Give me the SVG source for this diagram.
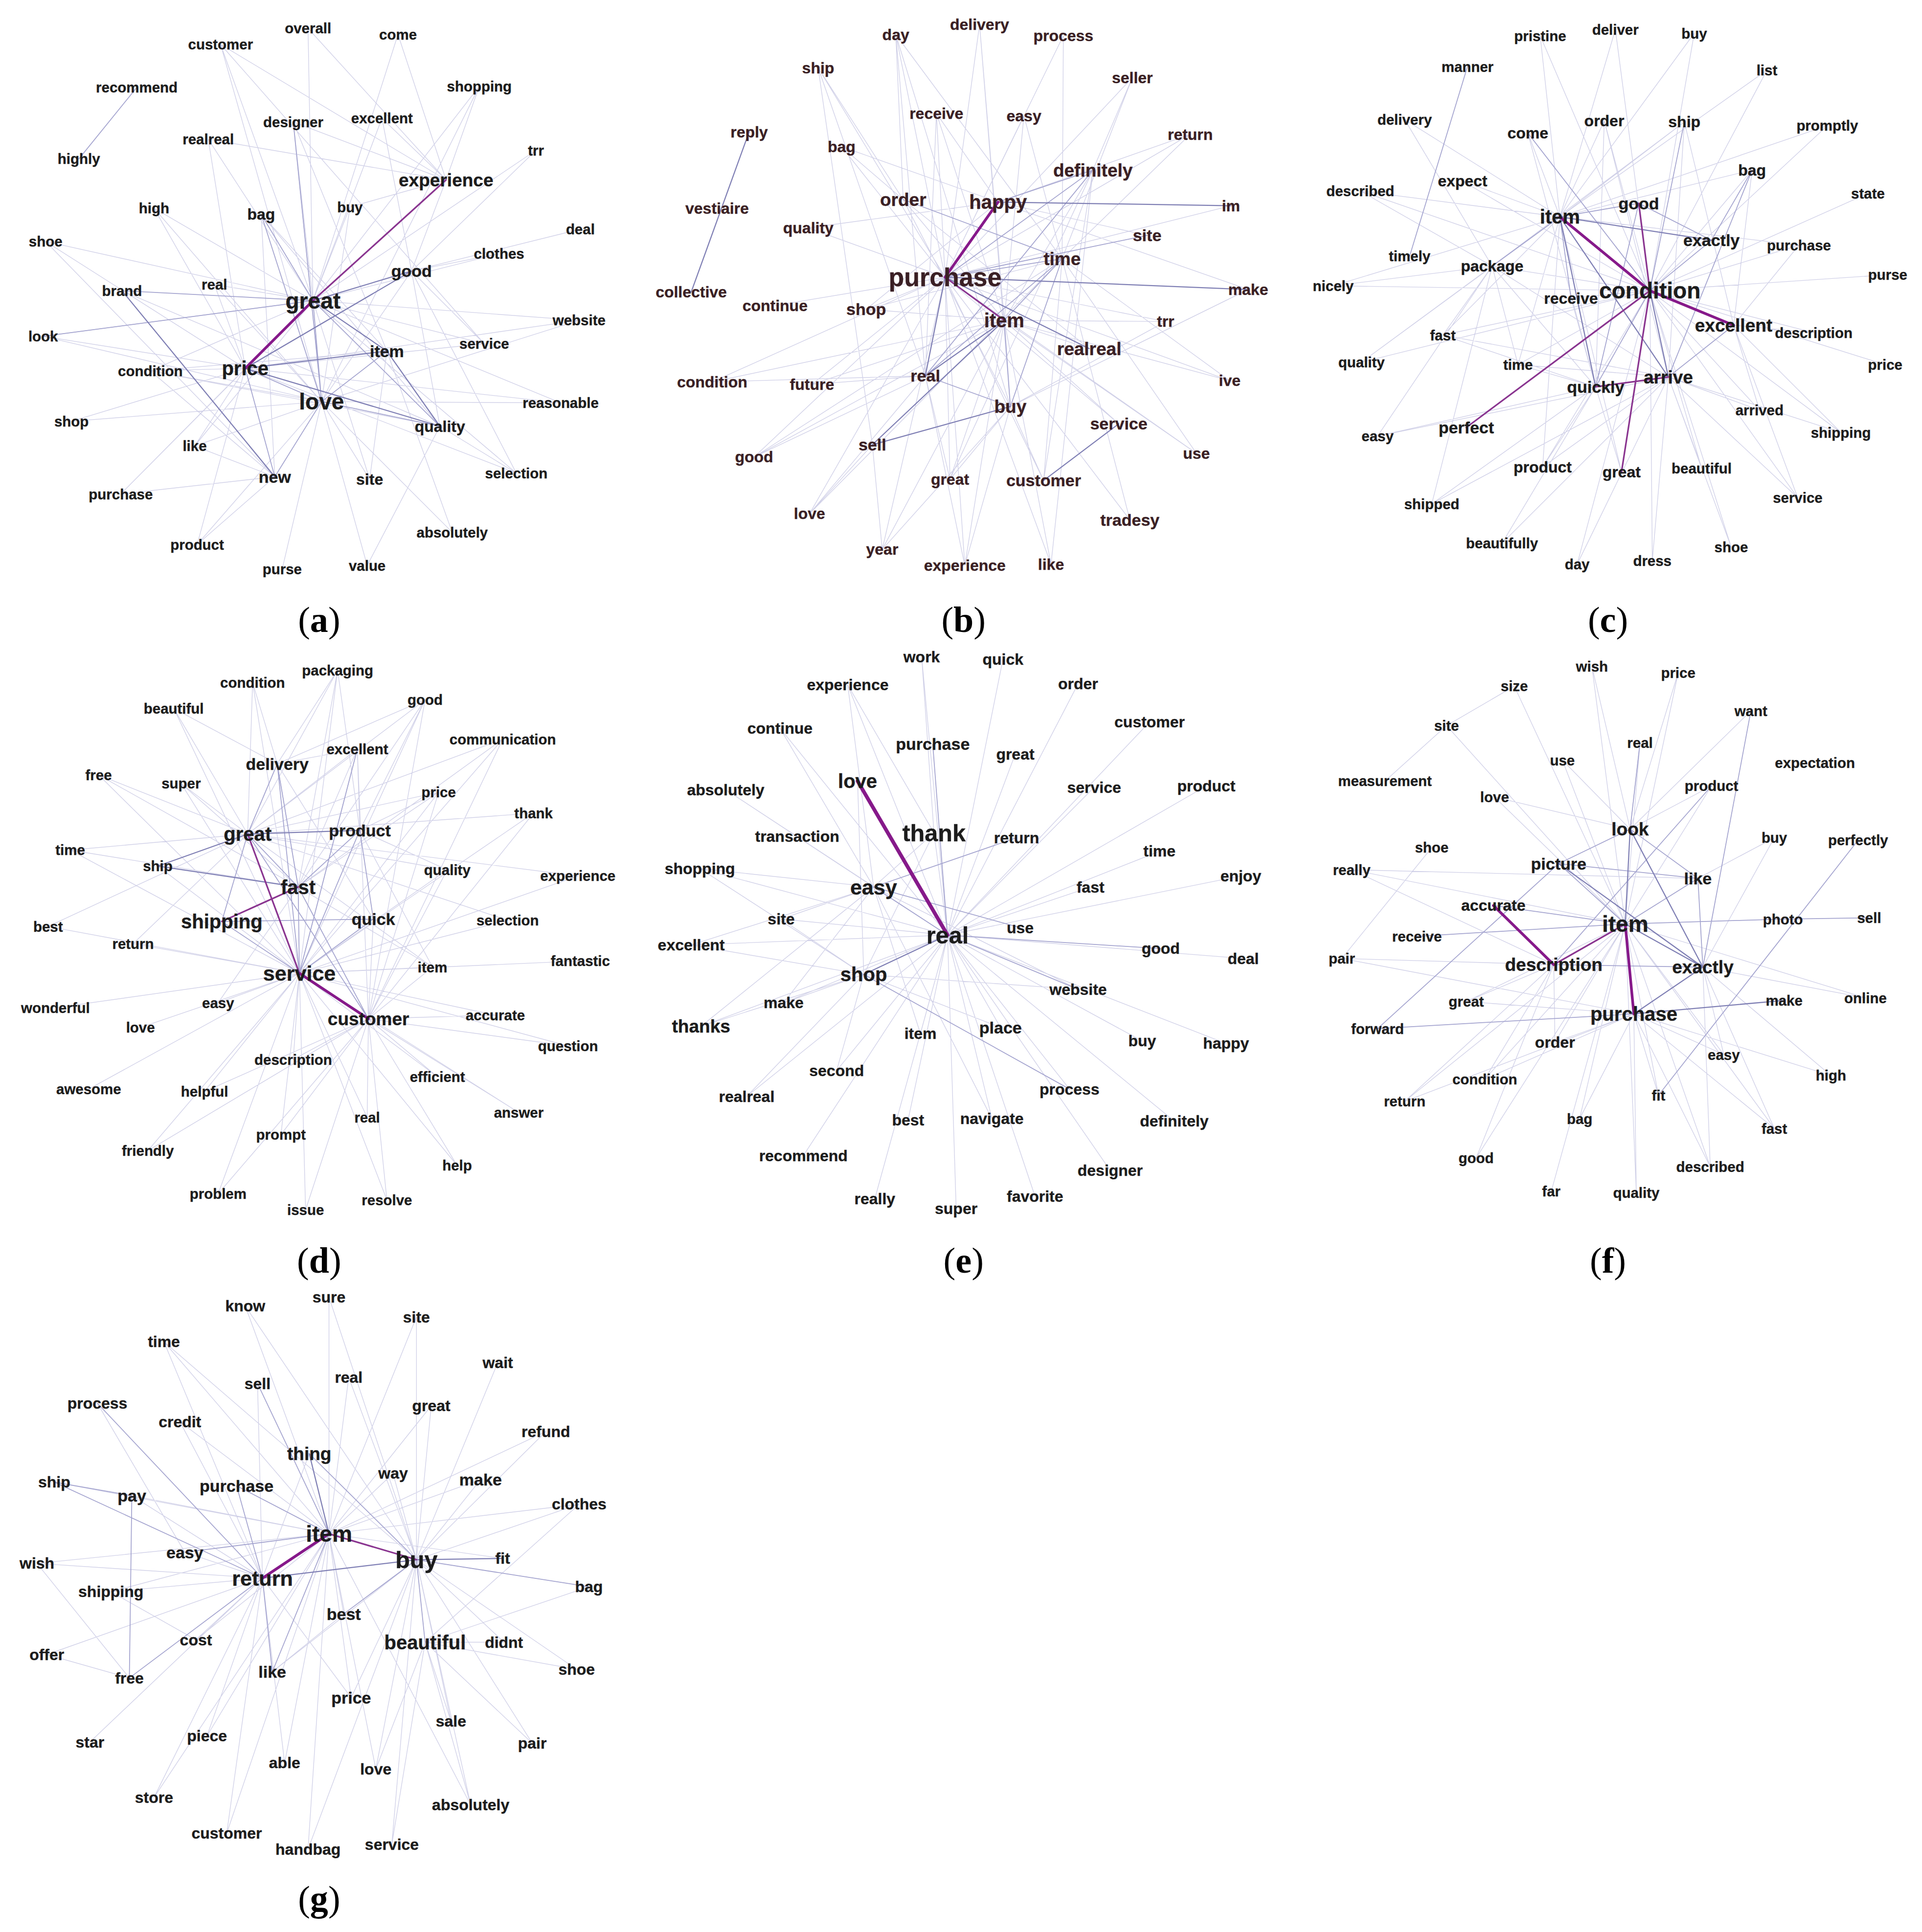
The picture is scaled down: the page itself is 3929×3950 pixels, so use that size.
<svg xmlns="http://www.w3.org/2000/svg" width="3929" height="3950" viewBox="0 0 3929 3950">
<style>
.w text{font-family:"Liberation Sans",Arial,sans-serif;font-weight:bold;text-anchor:middle;dominant-baseline:central;fill:#1c1c1c;stroke:#1c1c1c;stroke-width:0.16px;stroke-linejoin:round;font-size:11.7px}
#panel-b text{fill:#3a1f24;stroke:#3a1f24}
.d1 text{font-size:12.7px}
.w .t0{font-size:11.7px}.w .t1{font-size:12.7px}.w .t2{font-size:13.5px}.w .t3{font-size:14.7px}.w .t4{font-size:15.9px}.w .t5{font-size:17.1px}.w .t6{font-size:18.3px}.w .t7{font-size:19.3px}.w .t8{font-size:20.6px}
.lab{font-family:"Liberation Serif","Times New Roman",serif;font-size:29.4px;text-anchor:middle;fill:#000}
.lab .b{font-weight:bold}
.e1{stroke:#c6c6e2;stroke-width:0.55;stroke-opacity:0.8}
.e2{stroke:#a4a4cf;stroke-width:0.7}
.e3{stroke:#7f7fb4;stroke-width:0.9}
.ep{stroke:#8a3590;stroke-width:1.3}
.ep2{stroke:#86198a;stroke-width:2.2}
</style>
<rect width="3929" height="3950" fill="#fff"/>
<g transform="scale(2.5188)">
<g id="connectors" fill="none" stroke-linecap="round">
<path class="e1" d="M254 244L179 36M254 244L250 23M254 244L323 28M254 244L389 70M254 244L238 99M254 244L310 96M254 244L169 113M254 244L174 231M254 244L125 169M254 244L284 168M254 244L37 196M254 244L405 206M254 244L35 273M254 244L122 301M254 244L393 279M254 244L470 260M254 244L300 389M254 244L419 384M254 244L158 362M254 244L98 401M254 244L455 327M254 244L435 122M261 326L238 99M261 326L174 231M261 326L125 169M261 326L284 168M261 326L58 342M261 326L158 362M261 326L122 301M261 326L300 389M261 326L367 432M261 326L160 442M261 326L229 462M261 326L298 459M261 326L455 327M261 326L470 260M261 326L334 220M261 326L35 273M261 326L179 36M199 299L125 169M199 299L174 231M199 299L169 113M199 299L37 196M199 299L35 273M199 299L122 301M199 299L58 342M199 299L158 362M199 299L98 401M199 299L160 442M199 299L455 327M199 299L419 384M199 299L470 260M199 299L393 279M362 146L389 70M362 146L323 28M362 146L250 23M362 146L310 96M362 146L179 36M362 146L284 168M362 146L169 113M362 146L334 220M362 146L238 99M334 220L405 206M334 220L393 279M334 220L471 186M334 220L419 384M334 220L357 346M334 220L435 122M334 220L310 96M314 285L212 174M314 285L300 389M314 285L367 432M314 285L122 301M314 285L238 99M357 346L419 384M357 346L212 174M357 346L122 301M357 346L99 236M357 346L298 459M223 387L158 362M223 387L98 401M223 387L122 301M223 387L160 442M223 387L37 196M223 387L212 174M179 36L393 279M389 70L261 326"/>
<path class="e2" d="M254 244L212 174M254 244L261 326M212 174L261 326M261 326L223 387M199 299L223 387M254 244L357 346M261 326L314 285M199 299L261 326M111 71L64 129M238 99L261 326M99 236L254 244M35 273L254 244M357 346L261 326"/>
<path class="e3" d="M254 244L334 220M254 244L314 285M199 299L314 285M199 299L357 346M314 285L357 346M99 236L223 387M199 299L334 220"/>
<path class="ep" d="M254 244L362 146"/>
<path class="ep2" d="M254 244L199 299"/>
<path class="e1" d="M767 225L727 28M767 225L795 20M767 225L863 29M767 225L664 55M767 225L919 63M767 225L683 119M767 225L760 92M767 225L831 94M767 225L966 109M767 225L656 185M767 225L999 167M767 225L629 248M767 225L703 251M767 225L946 261M767 225L578 310M767 225L659 312M767 225L998 309M767 225L908 344M767 225L612 371M767 225L971 368M767 225L771 389M767 225L847 390M767 225L917 422M767 225L657 417M767 225L716 446M767 225L783 459M767 225L853 458M815 260L760 92M815 260L831 94M815 260L887 138M815 260L884 283M815 260L946 261M815 260L998 309M815 260L771 389M815 260L716 446M815 260L783 459M815 260L853 458M815 260L971 368M815 260L908 344M815 260L612 371M815 260L659 312M815 260L703 251M815 260L795 20M815 260L733 162M815 260L578 310M862 210L919 63M862 210L966 109M862 210L863 29M862 210L831 94M862 210L847 390M862 210L917 422M862 210L657 417M862 210L998 309M862 210L727 28M862 210L612 371M862 210L703 251M862 210L971 368M820 330L727 28M820 330L795 20M820 330L847 390M820 330L783 459M820 330L716 446M820 330L771 389M820 330L1013 235M820 330L946 261M751 305L727 28M751 305L771 389M751 305L657 417M751 305L659 312M751 305L783 459M751 305L612 371M751 305L578 310M751 305L664 55M751 305L760 92M810 164L931 191M810 164L966 109M810 164L1013 235M810 164L760 92M810 164L683 119M810 164L703 251M810 164L656 185M733 162L664 55M733 162L683 119M733 162L727 28M733 162L884 283M733 162L820 330M887 138L771 389M887 138L853 458M887 138L847 390M887 138L919 63M708 361L664 55M708 361L716 446M708 361L657 417"/>
<path class="e2" d="M767 225L887 138M810 164L887 138M767 225L862 210M862 210L815 260M767 225L931 191M815 260L820 330M733 162L862 210M751 305L820 330M862 210L751 305M887 138L751 305M862 210L820 330"/>
<path class="e3" d="M767 225L1013 235M810 164L999 167M767 225L751 305M815 260L708 361M708 361L820 330M847 390L908 344M608 107L561 237M815 260L751 305M767 225L884 283"/>
<path class="ep" d="M767 225L815 260"/>
<path class="ep2" d="M767 225L810 164"/>
<path class="e1" d="M1339 236L1250 29M1339 236L1311 24M1339 236L1375 27M1339 236L1240 108M1339 236L1302 98M1339 236L1422 138M1339 236L1187 147M1339 236L1211 216M1339 236L1275 242M1339 236L1171 272M1339 236L1232 296M1339 236L1460 199M1339 236L1516 157M1339 236L1472 270M1339 236L1428 333M1339 236L1494 351M1339 236L1459 404M1339 236L1381 380M1339 236L1252 379M1339 236L1280 458M1339 236L1341 455M1339 236L1405 444M1339 236L1082 232M1339 236L1105 294M1339 236L1104 155M1339 236L1434 57M1339 236L1483 102M1339 236L1532 223M1339 236L1530 296M1266 176L1250 29M1266 176L1240 108M1266 176L1302 98M1266 176L1367 99M1266 176L1311 24M1266 176L1140 97M1266 176L1104 155M1266 176L1187 147M1266 176L1232 296M1266 176L1171 272M1266 176L1105 294M1266 176L1252 379M1266 176L1316 383M1266 176L1434 57M1266 176L1460 199M1266 176L1483 102M1266 176L1422 138M1266 176L1082 232M1266 176L1375 27M1354 306L1211 216M1354 306L1171 272M1354 306L1232 296M1354 306L1252 379M1354 306L1162 409M1354 306L1381 380M1354 306L1118 354M1354 306L1219 441M1354 306L1428 333M1354 306L1494 351M1354 306L1280 458M1354 306L1341 455M1354 306L1459 404M1354 306L1405 444M1354 306L1367 99M1354 306L1302 98M1295 314L1211 216M1295 314L1252 379M1295 314L1316 383M1295 314L1162 409M1295 314L1118 354M1295 314L1171 272M1295 314L1232 296M1295 314L1275 242M1295 314L1302 98M1295 314L1240 108M1295 314L1219 441M1211 216L1171 272M1211 216L1105 294M1211 216L1118 354M1211 216L1232 296M1211 216L1162 409M1211 216L1082 232M1211 216L1140 97M1211 216L1104 155M1211 216L1367 99M1407 264L1459 404M1407 264L1494 351M1407 264L1472 270M1407 264L1428 333M1407 264L1422 138M1407 264L1367 99M1407 264L1460 199"/>
<path class="e2" d="M1266 176L1330 165M1266 176L1211 216M1266 176L1275 242M1339 236L1295 314M1330 165L1295 314M1407 264L1354 306M1422 138L1354 306M1339 236L1389 195M1389 195L1422 138M1191 54L1144 208M1330 165L1389 195M1367 99L1339 236M1240 108L1339 236"/>
<path class="e3" d="M1266 176L1389 195M1266 176L1295 314M1266 176L1354 306M1339 236L1354 306"/>
<path class="ep" d="M1330 165L1339 236M1339 236L1190 347M1339 236L1316 383M1295 314L1354 306"/>
<path class="ep2" d="M1266 176L1339 236M1339 236L1407 264"/>
<path class="e1" d="M243 790L274 544M243 790L205 554M243 790L345 568M243 790L141 575M243 790L408 600M243 790L290 608M243 790L80 629M243 790L147 636M243 790L356 643M243 790L433 660M243 790L57 690M243 790L128 703M243 790L363 706M243 790L469 711M243 790L412 747M243 790L39 752M243 790L108 766M243 790L471 780M243 790L351 785M243 790L45 818M243 790L177 814M243 790L402 824M243 790L114 834M243 790L461 849M243 790L238 860M243 790L355 874M243 790L72 884M243 790L166 886M243 790L421 903M243 790L298 907M243 790L228 921M243 790L120 934M243 790L371 946M243 790L177 969M243 790L314 974M243 790L248 982M299 827L408 600M299 827L290 608M299 827L345 568M299 827L356 643M299 827L363 706M299 827L303 746M299 827L351 785M299 827L355 874M299 827L421 903M299 827L461 849M299 827L371 946M299 827L314 974M299 827L248 982M299 827L298 907M299 827L120 934M299 827L166 886M299 827L177 969M299 827L228 921M299 827L238 860M299 827L402 824M299 827L433 660M201 677L274 544M201 677L205 554M201 677L141 575M201 677L80 629M201 677L147 636M201 677L57 690M201 677L363 706M201 677L356 643M201 677L433 660M201 677L469 711M201 677L412 747M201 677L351 785M201 677L108 766M201 677L39 752M201 677L345 568M201 677L408 600M201 677L290 608M242 720L225 620M242 720L290 608M242 720L147 636M242 720L57 690M242 720L345 568M242 720L356 643M242 720L351 785M242 720L177 814M242 720L274 544M242 720L408 600M242 720L80 629M225 620L205 554M225 620L274 544M225 620L141 575M225 620L345 568M225 620L303 746M225 620L290 608M292 674L345 568M292 674L356 643M292 674L363 706M292 674L290 608M292 674L351 785M292 674L274 544"/>
<path class="e2" d="M201 677L242 720M201 677L225 620M225 620L242 720M225 620L243 790M292 674L243 790M242 720L243 790M303 746L243 790M180 748L303 746M201 677L180 748M201 677L299 827M242 720L299 827M292 674L242 720M290 608L243 790M292 674L303 746M180 748L243 790"/>
<path class="e3" d="M201 677L292 674M128 703L201 677M128 703L242 720"/>
<path class="ep" d="M201 677L243 790M180 748L242 720"/>
<path class="ep2" d="M243 790L299 827"/>
<path class="e1" d="M769 759L748 533M769 759L814 535M769 759L688 556M769 759L875 555M769 759L933 586M769 759L633 591M769 759L824 612M769 759L589 641M769 759L888 639M769 759L979 638M769 759L647 679M769 759L941 691M769 759L568 705M769 759L885 720M769 759L1007 711M769 759L634 746M769 759L561 767M769 759L1009 778M769 759L636 814M769 759L569 833M769 759L747 839M769 759L812 834M769 759L927 845M769 759L995 847M769 759L679 869M769 759L868 884M769 759L606 890M769 759L737 909M769 759L805 908M769 759L953 910M769 759L652 938M769 759L901 950M769 759L710 973M769 759L840 971M769 759L776 981M769 759L758 676M709 720L633 591M709 720L589 641M709 720L647 679M709 720L568 705M709 720L634 746M709 720L561 767M709 720L636 814M709 720L569 833M709 720L805 908M709 720L747 839M709 720L688 556M709 720L875 803M701 791L568 705M701 791L561 767M701 791L634 746M701 791L606 890M701 791L636 814M701 791L679 869M701 791L812 834M701 791L875 803M701 791L569 833M758 676L688 556M758 676L748 533M758 676L709 720M758 676L701 791M696 634L701 791"/>
<path class="e2" d="M709 720L825 680M757 604L769 759M709 720L769 759M709 720L828 753M701 791L868 884M769 759L875 803M769 759L942 770"/>
<path class="e3" d="M701 791L769 759"/>
<path class="ep2" d="M696 634L769 759" style="stroke-width:3"/>
<path class="e1" d="M1319 750L1292 541M1319 750L1362 546M1319 750L1331 603M1319 750L1268 617M1319 750L1213 647M1319 750L1389 638M1319 750L1097 706M1319 750L1190 813M1319 750L1262 846M1319 750L1399 856M1319 750L1205 876M1319 750L1140 894M1319 750L1346 889M1319 750L1282 908M1319 750L1440 916M1319 750L1198 940M1319 750L1388 947M1319 750L1259 967M1319 750L1328 968M1319 750L1514 810M1319 750L1174 589M1323 673L1331 603M1323 673L1421 577M1323 673L1389 638M1323 673L1268 617M1323 673L1213 647M1323 673L1362 546M1323 673L1292 541M1326 823L1190 813M1326 823L1262 846M1326 823L1399 856M1326 823L1346 889M1326 823L1282 908M1326 823L1440 916M1326 823L1388 947M1326 823L1328 968M1326 823L1089 778M1326 823L1486 873M1326 823L1205 876M1326 823L1140 894M1261 783L1190 813M1261 783L1262 846M1261 783L1205 876M1261 783L1198 940M1261 783L1089 778M1261 783L1140 894M1261 783L1097 706M1382 785L1486 873M1382 785L1399 856M1382 785L1388 947M1382 785L1440 680M1382 785L1440 916M1382 785L1514 810M1174 589L1229 557M1174 589L1124 634M1162 688L1089 778M1097 706L1378 713M1440 680L1378 713M1229 557L1319 750"/>
<path class="e2" d="M1265 701L1319 750M1265 701L1378 713M1323 673L1378 713M1378 713L1382 785M1319 750L1378 713M1323 673L1265 701M1319 750L1447 746M1447 746L1517 745M1212 735L1319 750M1118 835L1265 701M1118 835L1326 823M1150 760L1319 750M1508 682L1346 889M1421 577L1382 785M1389 638L1261 783M1331 603L1323 673M1261 783L1382 785"/>
<path class="e3" d="M1323 673L1319 750M1323 673L1382 785M1265 701L1382 785M1319 750L1382 785M1326 823L1448 812M1326 823L1382 785"/>
<path class="ep" d="M1261 783L1319 750"/>
<path class="ep2" d="M1212 735L1261 783M1319 750L1326 823"/>
<path class="e1" d="M267 1245L199 1060M267 1245L267 1053M267 1245L338 1069M267 1245L133 1089M267 1245L283 1118M267 1245L146 1154M267 1245L350 1141M267 1245L443 1162M267 1245L319 1196M267 1245L390 1201M267 1245L44 1203M267 1245L107 1214M267 1245L470 1221M267 1245L408 1265M267 1245L30 1269M267 1245L90 1292M267 1245L279 1310M267 1245L159 1331M267 1245L285 1378M267 1245L168 1409M267 1245L231 1431M267 1245L305 1436M267 1245L184 1488M267 1245L250 1501M267 1245L125 1459M267 1245L382 1465M338 1266L267 1053M338 1266L338 1069M338 1266L199 1060M338 1266L404 1106M338 1266L283 1118M338 1266L350 1141M338 1266L443 1162M338 1266L319 1196M338 1266L390 1201M338 1266L470 1221M338 1266L409 1333M338 1266L468 1355M338 1266L366 1397M338 1266L432 1415M338 1266L285 1378M338 1266L305 1436M338 1266L382 1465M338 1266L318 1497M338 1266L250 1501M338 1266L221 1357M338 1266L133 1089M213 1281L133 1089M213 1281L146 1154M213 1281L209 1123M213 1281L107 1214M213 1281L30 1269M213 1281L90 1292M213 1281L150 1260M213 1281L159 1331M213 1281L38 1343M213 1281L73 1414M213 1281L168 1409M213 1281L125 1459M213 1281L184 1488M213 1281L231 1431M213 1281L285 1378M213 1281L251 1180M345 1333L478 1288M345 1333L468 1355M345 1333L432 1415M345 1333L366 1397M345 1333L305 1436M345 1333L409 1333M345 1333L318 1497M345 1333L382 1465M345 1333L470 1221M30 1269L105 1362M38 1343L105 1362M90 1292L159 1331M79 1139L150 1260M221 1357L279 1310"/>
<path class="e2" d="M251 1180L338 1266M192 1206L267 1245M44 1203L213 1281M44 1203L107 1214M79 1139L213 1281M107 1214L105 1362M267 1245L221 1357M213 1281L221 1357M338 1266L345 1333M338 1266L478 1288M150 1260L267 1245M213 1281L192 1206M279 1310L338 1266M105 1362L213 1281M209 1123L267 1245"/>
<path class="e3" d="M213 1281L338 1266M338 1266L408 1265M267 1245L251 1180"/>
<path class="ep" d="M267 1245L338 1266"/>
<path class="ep2" d="M213 1281L267 1245"/>
</g>
<g id="panel-a" class="w">
<g id="a-customer"><text x="179" y="36">customer</text></g>
<g id="a-overall"><text x="250" y="23">overall</text></g>
<g id="a-come"><text x="323" y="28">come</text></g>
<g id="a-recommend"><text x="111" y="71">recommend</text></g>
<g id="a-shopping"><text x="389" y="70">shopping</text></g>
<g id="a-highly"><text x="64" y="129">highly</text></g>
<g id="a-designer"><text x="238" y="99">designer</text></g>
<g id="a-excellent"><text x="310" y="96">excellent</text></g>
<g id="a-realreal"><text x="169" y="113">realreal</text></g>
<g id="a-trr"><text x="435" y="122">trr</text></g>
<g id="a-experience"><text class="t3" x="362" y="146">experience</text></g>
<g id="a-high"><text x="125" y="169">high</text></g>
<g id="a-bag"><text class="t1" x="212" y="174">bag</text></g>
<g id="a-buy"><text x="284" y="168">buy</text></g>
<g id="a-shoe"><text x="37" y="196">shoe</text></g>
<g id="a-deal"><text x="471" y="186">deal</text></g>
<g id="a-clothes"><text x="405" y="206">clothes</text></g>
<g id="a-good"><text class="t2" x="334" y="220">good</text></g>
<g id="a-brand"><text x="99" y="236">brand</text></g>
<g id="a-real"><text x="174" y="231">real</text></g>
<g id="a-great"><text class="t6" x="254" y="244">great</text></g>
<g id="a-look"><text x="35" y="273">look</text></g>
<g id="a-website"><text x="470" y="260">website</text></g>
<g id="a-service"><text x="393" y="279">service</text></g>
<g id="a-item"><text class="t2" x="314" y="285">item</text></g>
<g id="a-condition"><text x="122" y="301">condition</text></g>
<g id="a-price"><text class="t4" x="199" y="299">price</text></g>
<g id="a-love"><text class="t6" x="261" y="326">love</text></g>
<g id="a-reasonable"><text x="455" y="327">reasonable</text></g>
<g id="a-shop"><text x="58" y="342">shop</text></g>
<g id="a-quality"><text class="t1" x="357" y="346">quality</text></g>
<g id="a-like"><text x="158" y="362">like</text></g>
<g id="a-new"><text class="t2" x="223" y="387">new</text></g>
<g id="a-site"><text class="t1" x="300" y="389">site</text></g>
<g id="a-selection"><text x="419" y="384">selection</text></g>
<g id="a-purchase"><text x="98" y="401">purchase</text></g>
<g id="a-absolutely"><text x="367" y="432">absolutely</text></g>
<g id="a-product"><text x="160" y="442">product</text></g>
<g id="a-purse"><text x="229" y="462">purse</text></g>
<g id="a-value"><text x="298" y="459">value</text></g>
</g>
<g id="panel-b" class="w d1">
<g id="b-day"><text x="727" y="28">day</text></g>
<g id="b-delivery"><text x="795" y="20">delivery</text></g>
<g id="b-process"><text x="863" y="29">process</text></g>
<g id="b-ship"><text x="664" y="55">ship</text></g>
<g id="b-seller"><text x="919" y="63">seller</text></g>
<g id="b-reply"><text x="608" y="107">reply</text></g>
<g id="b-bag"><text x="683" y="119">bag</text></g>
<g id="b-receive"><text x="760" y="92">receive</text></g>
<g id="b-easy"><text x="831" y="94">easy</text></g>
<g id="b-return"><text x="966" y="109">return</text></g>
<g id="b-definitely"><text class="t3" x="887" y="138">definitely</text></g>
<g id="b-vestiaire"><text x="582" y="169">vestiaire</text></g>
<g id="b-order"><text class="t3" x="733" y="162">order</text></g>
<g id="b-happy"><text class="t4" x="810" y="164">happy</text></g>
<g id="b-quality"><text x="656" y="185">quality</text></g>
<g id="b-im"><text x="999" y="167">im</text></g>
<g id="b-site"><text class="t2" x="931" y="191">site</text></g>
<g id="b-time"><text class="t3" x="862" y="210">time</text></g>
<g id="b-collective"><text x="561" y="237">collective</text></g>
<g id="b-purchase"><text class="t8" x="767" y="225">purchase</text></g>
<g id="b-make"><text x="1013" y="235">make</text></g>
<g id="b-continue"><text x="629" y="248">continue</text></g>
<g id="b-shop"><text class="t2" x="703" y="251">shop</text></g>
<g id="b-item"><text class="t4" x="815" y="260">item</text></g>
<g id="b-trr"><text x="946" y="261">trr</text></g>
<g id="b-realreal"><text class="t3" x="884" y="283">realreal</text></g>
<g id="b-condition"><text x="578" y="310">condition</text></g>
<g id="b-future"><text x="659" y="312">future</text></g>
<g id="b-real"><text class="t2" x="751" y="305">real</text></g>
<g id="b-ive"><text x="998" y="309">ive</text></g>
<g id="b-buy"><text class="t3" x="820" y="330">buy</text></g>
<g id="b-service"><text class="t2" x="908" y="344">service</text></g>
<g id="b-good"><text x="612" y="371">good</text></g>
<g id="b-sell"><text class="t2" x="708" y="361">sell</text></g>
<g id="b-use"><text x="971" y="368">use</text></g>
<g id="b-great"><text x="771" y="389">great</text></g>
<g id="b-customer"><text class="t2" x="847" y="390">customer</text></g>
<g id="b-tradesy"><text class="t2" x="917" y="422">tradesy</text></g>
<g id="b-love"><text x="657" y="417">love</text></g>
<g id="b-year"><text x="716" y="446">year</text></g>
<g id="b-experience"><text x="783" y="459">experience</text></g>
<g id="b-like"><text x="853" y="458">like</text></g>
</g>
<g id="panel-c" class="w">
<g id="c-pristine"><text x="1250" y="29">pristine</text></g>
<g id="c-deliver"><text x="1311" y="24">deliver</text></g>
<g id="c-buy"><text x="1375" y="27">buy</text></g>
<g id="c-manner"><text x="1191" y="54">manner</text></g>
<g id="c-list"><text x="1434" y="57">list</text></g>
<g id="c-delivery"><text x="1140" y="97">delivery</text></g>
<g id="c-come"><text class="t1" x="1240" y="108">come</text></g>
<g id="c-order"><text class="t1" x="1302" y="98">order</text></g>
<g id="c-ship"><text class="t1" x="1367" y="99">ship</text></g>
<g id="c-promptly"><text x="1483" y="102">promptly</text></g>
<g id="c-bag"><text class="t1" x="1422" y="138">bag</text></g>
<g id="c-described"><text x="1104" y="155">described</text></g>
<g id="c-expect"><text class="t1" x="1187" y="147">expect</text></g>
<g id="c-state"><text x="1516" y="157">state</text></g>
<g id="c-item"><text class="t4" x="1266" y="176">item</text></g>
<g id="c-good"><text class="t2" x="1330" y="165">good</text></g>
<g id="c-timely"><text x="1144" y="208">timely</text></g>
<g id="c-exactly"><text class="t2" x="1389" y="195">exactly</text></g>
<g id="c-purchase"><text x="1460" y="199">purchase</text></g>
<g id="c-purse"><text x="1532" y="223">purse</text></g>
<g id="c-package"><text class="t1" x="1211" y="216">package</text></g>
<g id="c-nicely"><text x="1082" y="232">nicely</text></g>
<g id="c-receive"><text class="t1" x="1275" y="242">receive</text></g>
<g id="c-condition"><text class="t6" x="1339" y="236">condition</text></g>
<g id="c-fast"><text x="1171" y="272">fast</text></g>
<g id="c-excellent"><text class="t3" x="1407" y="264">excellent</text></g>
<g id="c-description"><text x="1472" y="270">description</text></g>
<g id="c-quality"><text x="1105" y="294">quality</text></g>
<g id="c-time"><text x="1232" y="296">time</text></g>
<g id="c-price"><text x="1530" y="296">price</text></g>
<g id="c-quickly"><text class="t2" x="1295" y="314">quickly</text></g>
<g id="c-arrive"><text class="t3" x="1354" y="306">arrive</text></g>
<g id="c-arrived"><text x="1428" y="333">arrived</text></g>
<g id="c-perfect"><text class="t2" x="1190" y="347">perfect</text></g>
<g id="c-easy"><text x="1118" y="354">easy</text></g>
<g id="c-shipping"><text x="1494" y="351">shipping</text></g>
<g id="c-product"><text class="t1" x="1252" y="379">product</text></g>
<g id="c-great"><text class="t1" x="1316" y="383">great</text></g>
<g id="c-beautiful"><text x="1381" y="380">beautiful</text></g>
<g id="c-shipped"><text x="1162" y="409">shipped</text></g>
<g id="c-service"><text x="1459" y="404">service</text></g>
<g id="c-beautifully"><text x="1219" y="441">beautifully</text></g>
<g id="c-day"><text x="1280" y="458">day</text></g>
<g id="c-dress"><text x="1341" y="455">dress</text></g>
<g id="c-shoe"><text x="1405" y="444">shoe</text></g>
</g>
<g id="panel-d" class="w">
<g id="d-packaging"><text x="274" y="544">packaging</text></g>
<g id="d-condition"><text x="205" y="554">condition</text></g>
<g id="d-good"><text x="345" y="568">good</text></g>
<g id="d-beautiful"><text x="141" y="575">beautiful</text></g>
<g id="d-communication"><text x="408" y="600">communication</text></g>
<g id="d-delivery"><text class="t2" x="225" y="620">delivery</text></g>
<g id="d-excellent"><text x="290" y="608">excellent</text></g>
<g id="d-free"><text x="80" y="629">free</text></g>
<g id="d-super"><text x="147" y="636">super</text></g>
<g id="d-price"><text x="356" y="643">price</text></g>
<g id="d-thank"><text x="433" y="660">thank</text></g>
<g id="d-great"><text class="t4" x="201" y="677">great</text></g>
<g id="d-product"><text class="t2" x="292" y="674">product</text></g>
<g id="d-time"><text x="57" y="690">time</text></g>
<g id="d-ship"><text x="128" y="703">ship</text></g>
<g id="d-quality"><text x="363" y="706">quality</text></g>
<g id="d-experience"><text x="469" y="711">experience</text></g>
<g id="d-fast"><text class="t4" x="242" y="720">fast</text></g>
<g id="d-quick"><text class="t2" x="303" y="746">quick</text></g>
<g id="d-shipping"><text class="t4" x="180" y="748">shipping</text></g>
<g id="d-selection"><text x="412" y="747">selection</text></g>
<g id="d-best"><text x="39" y="752">best</text></g>
<g id="d-return"><text x="108" y="766">return</text></g>
<g id="d-fantastic"><text x="471" y="780">fantastic</text></g>
<g id="d-item"><text x="351" y="785">item</text></g>
<g id="d-service"><text class="t5" x="243" y="790">service</text></g>
<g id="d-wonderful"><text x="45" y="818">wonderful</text></g>
<g id="d-easy"><text x="177" y="814">easy</text></g>
<g id="d-customer"><text class="t3" x="299" y="827">customer</text></g>
<g id="d-accurate"><text x="402" y="824">accurate</text></g>
<g id="d-love"><text x="114" y="834">love</text></g>
<g id="d-question"><text x="461" y="849">question</text></g>
<g id="d-description"><text x="238" y="860">description</text></g>
<g id="d-efficient"><text x="355" y="874">efficient</text></g>
<g id="d-awesome"><text x="72" y="884">awesome</text></g>
<g id="d-helpful"><text x="166" y="886">helpful</text></g>
<g id="d-answer"><text x="421" y="903">answer</text></g>
<g id="d-real"><text x="298" y="907">real</text></g>
<g id="d-prompt"><text x="228" y="921">prompt</text></g>
<g id="d-friendly"><text x="120" y="934">friendly</text></g>
<g id="d-help"><text x="371" y="946">help</text></g>
<g id="d-problem"><text x="177" y="969">problem</text></g>
<g id="d-resolve"><text x="314" y="974">resolve</text></g>
<g id="d-issue"><text x="248" y="982">issue</text></g>
</g>
<g id="panel-e" class="w d1">
<g id="e-work"><text x="748" y="533">work</text></g>
<g id="e-quick"><text x="814" y="535">quick</text></g>
<g id="e-experience"><text x="688" y="556">experience</text></g>
<g id="e-order"><text x="875" y="555">order</text></g>
<g id="e-customer"><text x="933" y="586">customer</text></g>
<g id="e-continue"><text x="633" y="591">continue</text></g>
<g id="e-purchase"><text class="t2" x="757" y="604">purchase</text></g>
<g id="e-great"><text x="824" y="612">great</text></g>
<g id="e-absolutely"><text x="589" y="641">absolutely</text></g>
<g id="e-love"><text class="t4" x="696" y="634">love</text></g>
<g id="e-service"><text x="888" y="639">service</text></g>
<g id="e-product"><text x="979" y="638">product</text></g>
<g id="e-thank"><text class="t7" x="758" y="676">thank</text></g>
<g id="e-transaction"><text x="647" y="679">transaction</text></g>
<g id="e-return"><text x="825" y="680">return</text></g>
<g id="e-time"><text x="941" y="691">time</text></g>
<g id="e-shopping"><text x="568" y="705">shopping</text></g>
<g id="e-easy"><text class="t5" x="709" y="720">easy</text></g>
<g id="e-fast"><text x="885" y="720">fast</text></g>
<g id="e-enjoy"><text x="1007" y="711">enjoy</text></g>
<g id="e-site"><text x="634" y="746">site</text></g>
<g id="e-use"><text x="828" y="753">use</text></g>
<g id="e-real"><text class="t7" x="769" y="759">real</text></g>
<g id="e-excellent"><text x="561" y="767">excellent</text></g>
<g id="e-good"><text x="942" y="770">good</text></g>
<g id="e-deal"><text x="1009" y="778">deal</text></g>
<g id="e-shop"><text class="t4" x="701" y="791">shop</text></g>
<g id="e-website"><text x="875" y="803">website</text></g>
<g id="e-make"><text x="636" y="814">make</text></g>
<g id="e-thanks"><text class="t3" x="569" y="833">thanks</text></g>
<g id="e-item"><text x="747" y="839">item</text></g>
<g id="e-place"><text class="t2" x="812" y="834">place</text></g>
<g id="e-buy"><text x="927" y="845">buy</text></g>
<g id="e-happy"><text x="995" y="847">happy</text></g>
<g id="e-second"><text x="679" y="869">second</text></g>
<g id="e-process"><text x="868" y="884">process</text></g>
<g id="e-realreal"><text x="606" y="890">realreal</text></g>
<g id="e-best"><text x="737" y="909">best</text></g>
<g id="e-navigate"><text x="805" y="908">navigate</text></g>
<g id="e-definitely"><text x="953" y="910">definitely</text></g>
<g id="e-recommend"><text x="652" y="938">recommend</text></g>
<g id="e-designer"><text x="901" y="950">designer</text></g>
<g id="e-really"><text x="710" y="973">really</text></g>
<g id="e-favorite"><text x="840" y="971">favorite</text></g>
<g id="e-super"><text x="776" y="981">super</text></g>
</g>
<g id="panel-f" class="w">
<g id="f-wish"><text x="1292" y="541">wish</text></g>
<g id="f-size"><text x="1229" y="557">size</text></g>
<g id="f-price"><text x="1362" y="546">price</text></g>
<g id="f-want"><text x="1421" y="577">want</text></g>
<g id="f-site"><text x="1174" y="589">site</text></g>
<g id="f-real"><text x="1331" y="603">real</text></g>
<g id="f-use"><text x="1268" y="617">use</text></g>
<g id="f-expectation"><text x="1473" y="619">expectation</text></g>
<g id="f-measurement"><text x="1124" y="634">measurement</text></g>
<g id="f-product"><text x="1389" y="638">product</text></g>
<g id="f-love"><text x="1213" y="647">love</text></g>
<g id="f-look"><text class="t3" x="1323" y="673">look</text></g>
<g id="f-buy"><text x="1440" y="680">buy</text></g>
<g id="f-perfectly"><text x="1508" y="682">perfectly</text></g>
<g id="f-really"><text x="1097" y="706">really</text></g>
<g id="f-shoe"><text x="1162" y="688">shoe</text></g>
<g id="f-picture"><text class="t2" x="1265" y="701">picture</text></g>
<g id="f-like"><text class="t2" x="1378" y="713">like</text></g>
<g id="f-accurate"><text class="t1" x="1212" y="735">accurate</text></g>
<g id="f-item"><text class="t6" x="1319" y="750">item</text></g>
<g id="f-photo"><text x="1447" y="746">photo</text></g>
<g id="f-sell"><text x="1517" y="745">sell</text></g>
<g id="f-receive"><text x="1150" y="760">receive</text></g>
<g id="f-pair"><text x="1089" y="778">pair</text></g>
<g id="f-description"><text class="t3" x="1261" y="783">description</text></g>
<g id="f-exactly"><text class="t3" x="1382" y="785">exactly</text></g>
<g id="f-great"><text x="1190" y="813">great</text></g>
<g id="f-forward"><text x="1118" y="835">forward</text></g>
<g id="f-purchase"><text class="t4" x="1326" y="823">purchase</text></g>
<g id="f-make"><text x="1448" y="812">make</text></g>
<g id="f-online"><text x="1514" y="810">online</text></g>
<g id="f-order"><text class="t1" x="1262" y="846">order</text></g>
<g id="f-easy"><text x="1399" y="856">easy</text></g>
<g id="f-condition"><text x="1205" y="876">condition</text></g>
<g id="f-high"><text x="1486" y="873">high</text></g>
<g id="f-return"><text x="1140" y="894">return</text></g>
<g id="f-fit"><text x="1346" y="889">fit</text></g>
<g id="f-bag"><text x="1282" y="908">bag</text></g>
<g id="f-fast"><text x="1440" y="916">fast</text></g>
<g id="f-good"><text x="1198" y="940">good</text></g>
<g id="f-described"><text x="1388" y="947">described</text></g>
<g id="f-far"><text x="1259" y="967">far</text></g>
<g id="f-quality"><text x="1328" y="968">quality</text></g>
</g>
<g id="panel-g" class="w d1">
<g id="g-know"><text x="199" y="1060">know</text></g>
<g id="g-sure"><text x="267" y="1053">sure</text></g>
<g id="g-site"><text x="338" y="1069">site</text></g>
<g id="g-time"><text x="133" y="1089">time</text></g>
<g id="g-wait"><text x="404" y="1106">wait</text></g>
<g id="g-real"><text x="283" y="1118">real</text></g>
<g id="g-sell"><text x="209" y="1123">sell</text></g>
<g id="g-process"><text x="79" y="1139">process</text></g>
<g id="g-credit"><text x="146" y="1154">credit</text></g>
<g id="g-great"><text x="350" y="1141">great</text></g>
<g id="g-refund"><text x="443" y="1162">refund</text></g>
<g id="g-thing"><text class="t3" x="251" y="1180">thing</text></g>
<g id="g-way"><text x="319" y="1196">way</text></g>
<g id="g-make"><text class="t2" x="390" y="1201">make</text></g>
<g id="g-purchase"><text class="t2" x="192" y="1206">purchase</text></g>
<g id="g-ship"><text x="44" y="1203">ship</text></g>
<g id="g-pay"><text class="t2" x="107" y="1214">pay</text></g>
<g id="g-clothes"><text x="470" y="1221">clothes</text></g>
<g id="g-item"><text class="t6" x="267" y="1245">item</text></g>
<g id="g-easy"><text class="t2" x="150" y="1260">easy</text></g>
<g id="g-buy"><text class="t7" x="338" y="1266">buy</text></g>
<g id="g-fit"><text x="408" y="1265">fit</text></g>
<g id="g-wish"><text x="30" y="1269">wish</text></g>
<g id="g-return"><text class="t5" x="213" y="1281">return</text></g>
<g id="g-shipping"><text x="90" y="1292">shipping</text></g>
<g id="g-bag"><text x="478" y="1288">bag</text></g>
<g id="g-best"><text class="t2" x="279" y="1310">best</text></g>
<g id="g-beautiful"><text class="t4" x="345" y="1333">beautiful</text></g>
<g id="g-cost"><text x="159" y="1331">cost</text></g>
<g id="g-didnt"><text x="409" y="1333">didnt</text></g>
<g id="g-offer"><text x="38" y="1343">offer</text></g>
<g id="g-like"><text class="t2" x="221" y="1357">like</text></g>
<g id="g-free"><text x="105" y="1362">free</text></g>
<g id="g-shoe"><text x="468" y="1355">shoe</text></g>
<g id="g-price"><text class="t2" x="285" y="1378">price</text></g>
<g id="g-sale"><text x="366" y="1397">sale</text></g>
<g id="g-star"><text x="73" y="1414">star</text></g>
<g id="g-piece"><text x="168" y="1409">piece</text></g>
<g id="g-pair"><text x="432" y="1415">pair</text></g>
<g id="g-able"><text x="231" y="1431">able</text></g>
<g id="g-love"><text x="305" y="1436">love</text></g>
<g id="g-store"><text x="125" y="1459">store</text></g>
<g id="g-absolutely"><text x="382" y="1465">absolutely</text></g>
<g id="g-customer"><text x="184" y="1488">customer</text></g>
<g id="g-handbag"><text x="250" y="1501">handbag</text></g>
<g id="g-service"><text x="318" y="1497">service</text></g>
</g>
<g id="labels">
<text class="lab" x="259" y="513">(<tspan class="b">a</tspan>)</text>
<text class="lab" x="782" y="513">(<tspan class="b">b</tspan>)</text>
<text class="lab" x="1305" y="513">(<tspan class="b">c</tspan>)</text>
<text class="lab" x="259" y="1033">(<tspan class="b">d</tspan>)</text>
<text class="lab" x="782" y="1033">(<tspan class="b">e</tspan>)</text>
<text class="lab" x="1305" y="1033">(<tspan class="b">f</tspan>)</text>
<text class="lab" x="259" y="1551">(<tspan class="b">g</tspan>)</text>
</g>
</g>
</svg>
